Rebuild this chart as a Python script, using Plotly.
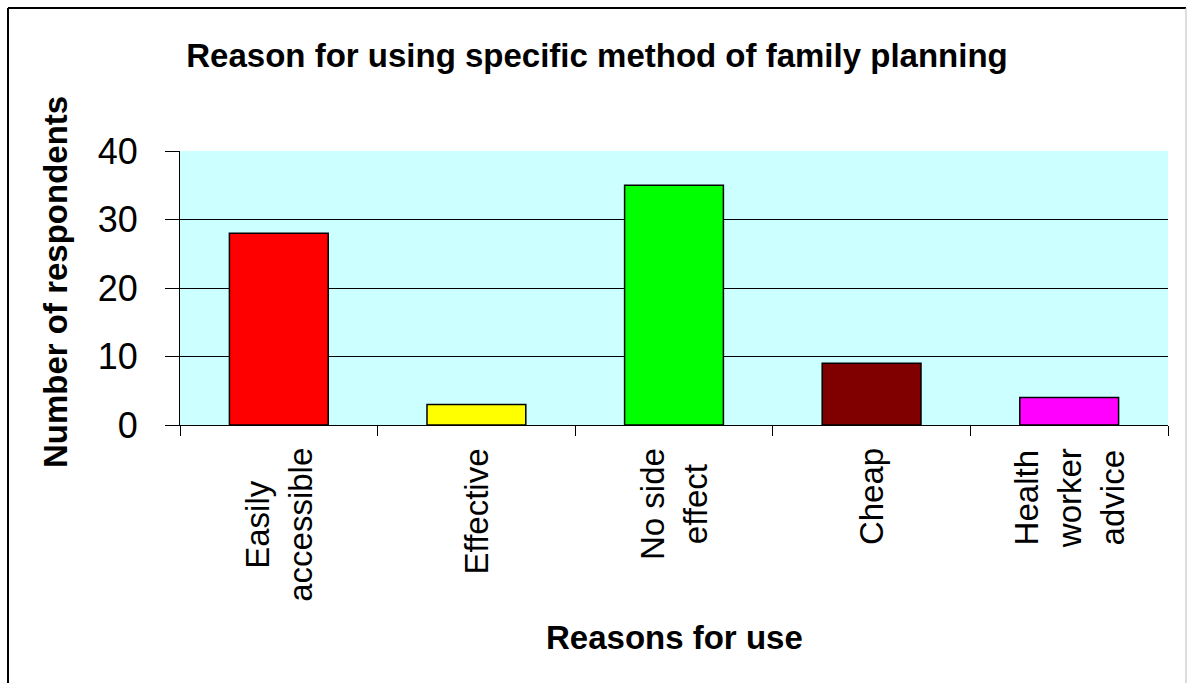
import plotly.graph_objects as go

categories = ["Easily<br>accessible", "Effective", "No side<br>effect", "Cheap", "Health<br>worker<br>advice"]
values = [28, 3, 35, 9, 4]
colors = ["#FF0000", "#FFFF00", "#00FF00", "#800000", "#FF00FF"]
y_ticks = [0, 10, 20, 30, 40]

W, H = 1187, 683
L, R, T, B = 180, 19, 151, 258
pw, ph = W - L - R, H - T - B

def px_x(p):
    return (p - L) / pw

def px_y(p):
    return (H - B - p) / ph

fig = go.Figure(go.Bar(
    x=categories, y=values, width=0.5,
    marker=dict(color=colors, line=dict(color="black", width=1.5)),
))

font = "Liberation Sans, Arial, sans-serif"

annotations = [
    dict(text="<b>Number of respondents</b>", textangle=-90, xref="paper", yref="paper",
         x=px_x(55), y=px_y(282), xanchor="center", yanchor="middle", showarrow=False,
         font=dict(size=33, family=font, color="black")),
    dict(text="<b>Reasons for use</b>", xref="paper", yref="paper",
         x=px_x(674), y=px_y(637), xanchor="center", yanchor="middle", showarrow=False,
         font=dict(size=33, family=font, color="black")),
]
for c in categories:
    annotations.append(dict(
        text=c, textangle=-90, xref="x", yref="paper", x=c, y=px_y(446),
        xanchor="center", yanchor="top", align="center", showarrow=False,
        font=dict(size=33, family=font, color="black")))

fig.update_layout(
    width=W, height=H,
    margin=dict(l=L, r=R, t=T, b=B),
    paper_bgcolor="white", plot_bgcolor="#CCFFFF",
    showlegend=False,
    font=dict(family=font, color="black"),
    title=dict(text="<b>Reason for using specific method of family planning</b>",
               x=597 / W, xanchor="center", y=1 - 55 / H, yanchor="middle",
               xref="container", yref="container",
               font=dict(size=33, family=font, color="black")),
    xaxis=dict(showticklabels=False,
               showline=True, linecolor="black", linewidth=1,
               ticks="outside", tickson="boundaries", ticklen=10, tickcolor="black",
               showgrid=False),
    yaxis=dict(range=[0, 40], tickvals=y_ticks, tickfont=dict(size=36, family=font),
               showline=True, linecolor="black", linewidth=1,
               ticks="outside", ticklen=14, tickcolor="black",
               ticklabelstandoff=20,
               showgrid=True, gridcolor="black", gridwidth=1, zeroline=False),
    annotations=annotations,
    shapes=[
        dict(type="line", xref="paper", yref="paper", x0=px_x(8), x1=px_x(8), y0=px_y(8), y1=px_y(700),
             line=dict(color="black", width=2)),
        dict(type="line", xref="paper", yref="paper", x0=px_x(8), x1=px_x(1186), y0=px_y(8), y1=px_y(8),
             line=dict(color="black", width=2)),
        dict(type="line", xref="paper", yref="paper", x0=px_x(1186), x1=px_x(1186), y0=px_y(8), y1=px_y(700),
             line=dict(color="#BBBBBB", width=1)),
    ],
)

fig.write_html("out.html")
